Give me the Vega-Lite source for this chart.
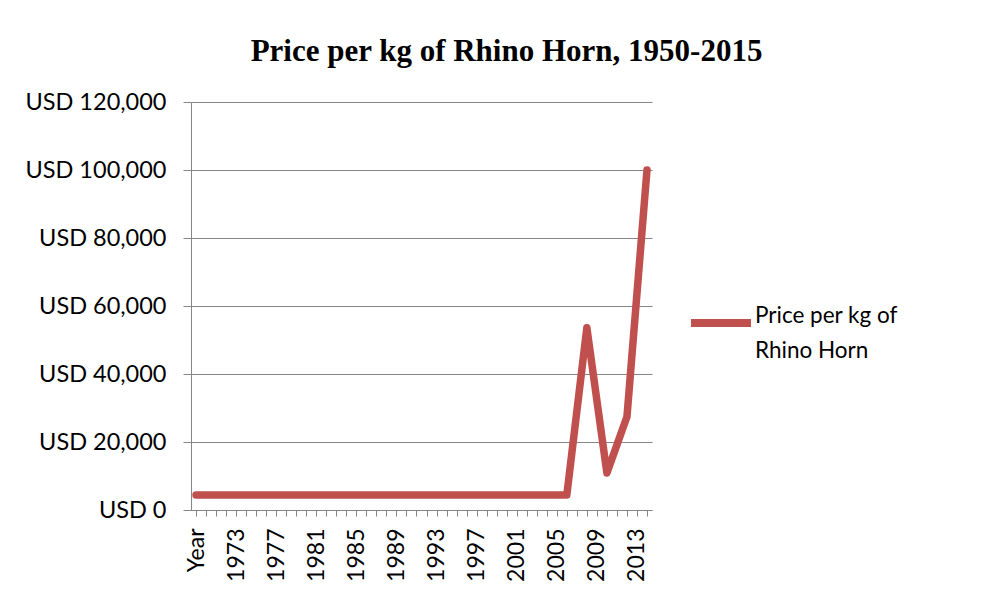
{
  "$schema": "https://vega.github.io/schema/vega-lite/v6.json",
  "width": 461,
  "height": 408,
  "autosize": {"type": "none"},
  "padding": {"left": 191, "top": 102, "right": 337, "bottom": 85},
  "background": "white",
  "title": {
    "text": "Price per kg of Rhino Horn, 1950-2015",
    "font": "Liberation Serif",
    "fontSize": 31,
    "fontWeight": "bold",
    "color": "black",
    "anchor": "middle",
    "frame": "group",
    "dx": 85,
    "baseline": "alphabetic",
    "offset": -2
  },
  "config": {
    "view": {"stroke": null},
    "font": "Lato",
    "style": {"guide-label": {"lineHeight": 35}}
  },
  "data": {
    "values": [
      {"year": "Year", "price": 4400, "series": "Price per kg of Rhino Horn"},
      {"year": "1970", "price": 4400, "series": "Price per kg of Rhino Horn"},
      {"year": "1971", "price": 4400, "series": "Price per kg of Rhino Horn"},
      {"year": "1972", "price": 4400, "series": "Price per kg of Rhino Horn"},
      {"year": "1973", "price": 4400, "series": "Price per kg of Rhino Horn"},
      {"year": "1974", "price": 4400, "series": "Price per kg of Rhino Horn"},
      {"year": "1975", "price": 4400, "series": "Price per kg of Rhino Horn"},
      {"year": "1976", "price": 4400, "series": "Price per kg of Rhino Horn"},
      {"year": "1977", "price": 4400, "series": "Price per kg of Rhino Horn"},
      {"year": "1978", "price": 4400, "series": "Price per kg of Rhino Horn"},
      {"year": "1979", "price": 4400, "series": "Price per kg of Rhino Horn"},
      {"year": "1980", "price": 4400, "series": "Price per kg of Rhino Horn"},
      {"year": "1981", "price": 4400, "series": "Price per kg of Rhino Horn"},
      {"year": "1982", "price": 4400, "series": "Price per kg of Rhino Horn"},
      {"year": "1983", "price": 4400, "series": "Price per kg of Rhino Horn"},
      {"year": "1984", "price": 4400, "series": "Price per kg of Rhino Horn"},
      {"year": "1985", "price": 4400, "series": "Price per kg of Rhino Horn"},
      {"year": "1986", "price": 4400, "series": "Price per kg of Rhino Horn"},
      {"year": "1987", "price": 4400, "series": "Price per kg of Rhino Horn"},
      {"year": "1988", "price": 4400, "series": "Price per kg of Rhino Horn"},
      {"year": "1989", "price": 4400, "series": "Price per kg of Rhino Horn"},
      {"year": "1990", "price": 4400, "series": "Price per kg of Rhino Horn"},
      {"year": "1991", "price": 4400, "series": "Price per kg of Rhino Horn"},
      {"year": "1992", "price": 4400, "series": "Price per kg of Rhino Horn"},
      {"year": "1993", "price": 4400, "series": "Price per kg of Rhino Horn"},
      {"year": "1994", "price": 4400, "series": "Price per kg of Rhino Horn"},
      {"year": "1995", "price": 4400, "series": "Price per kg of Rhino Horn"},
      {"year": "1996", "price": 4400, "series": "Price per kg of Rhino Horn"},
      {"year": "1997", "price": 4400, "series": "Price per kg of Rhino Horn"},
      {"year": "1998", "price": 4400, "series": "Price per kg of Rhino Horn"},
      {"year": "1999", "price": 4400, "series": "Price per kg of Rhino Horn"},
      {"year": "2000", "price": 4400, "series": "Price per kg of Rhino Horn"},
      {"year": "2001", "price": 4400, "series": "Price per kg of Rhino Horn"},
      {"year": "2002", "price": 4400, "series": "Price per kg of Rhino Horn"},
      {"year": "2003", "price": 4400, "series": "Price per kg of Rhino Horn"},
      {"year": "2004", "price": 4400, "series": "Price per kg of Rhino Horn"},
      {"year": "2005", "price": 4400, "series": "Price per kg of Rhino Horn"},
      {"year": "2006", "price": 4400, "series": "Price per kg of Rhino Horn"},
      {"year": "2008", "price": 53600, "series": "Price per kg of Rhino Horn"},
      {"year": "2010", "price": 10900, "series": "Price per kg of Rhino Horn"},
      {"year": "2012", "price": 27400, "series": "Price per kg of Rhino Horn"},
      {"year": "2014", "price": 100000, "series": "Price per kg of Rhino Horn"}
    ]
  },
  "mark": {"type": "line", "strokeWidth": 7.5, "strokeCap": "round", "strokeJoin": "round"},
  "encoding": {
    "x": {
      "field": "year",
      "type": "ordinal",
      "scale": {
        "type": "point",
        "padding": 0.5,
        "domain": ["Year","1970","1971","1972","1973","1974","1975","1976","1977","1978","1979","1980","1981","1982","1983","1984","1985","1986","1987","1988","1989","1990","1991","1992","1993","1994","1995","1996","1997","1998","1999","2000","2001","2002","2003","2004","2005","2006","2007","2008","2009","2010","2011","2012","2013","2014"]
      },
      "axis": {
        "title": null,
        "labelAngle": 270,
        "labelAlign": "right",
        "labelBaseline": "middle",
        "labelFont": "Lato",
        "labelFontSize": 23,
        "labelColor": "black",
        "labelPadding": 12,
        "labelOverlap": false,
        "labelExpr": "datum.value == 'Year' || (toNumber(datum.value) - 1969) % 4 == 0 ? datum.value : ''",
        "tickSize": 6,
        "tickColor": "#868686",
        "domainColor": "#868686",
        "grid": false
      }
    },
    "y": {
      "field": "price",
      "type": "quantitative",
      "scale": {"domain": [0, 120000], "nice": false},
      "axis": {
        "title": null,
        "values": [0, 20000, 40000, 60000, 80000, 100000, 120000],
        "labelExpr": "'USD ' + format(datum.value, ',')",
        "labelFont": "Lato",
        "labelFontSize": 23.5,
        "labelColor": "black",
        "labelPadding": 17,
        "tickSize": 8,
        "tickColor": "#868686",
        "domainColor": "#868686",
        "gridColor": "#868686",
        "gridWidth": 1,
        "gridOpacity": 1
      }
    },
    "color": {
      "field": "series",
      "type": "nominal",
      "scale": {"range": ["#C0504D"]},
      "legend": {
        "title": null,
        "orient": "none",
        "legendX": 496,
        "legendY": 187,
        "padding": 0,
        "symbolType": "stroke",
        "symbolSize": 3600,
        "symbolStrokeWidth": 8,
        "labelFont": "Lato",
        "labelFontSize": 22.5,
        "labelColor": "black",
        "labelOffset": 0,
        "labelBaseline": "alphabetic",
        "labelLimit": 400,
        "labelExpr": "['Price per kg of', 'Rhino Horn']"
      }
    }
  }
}
